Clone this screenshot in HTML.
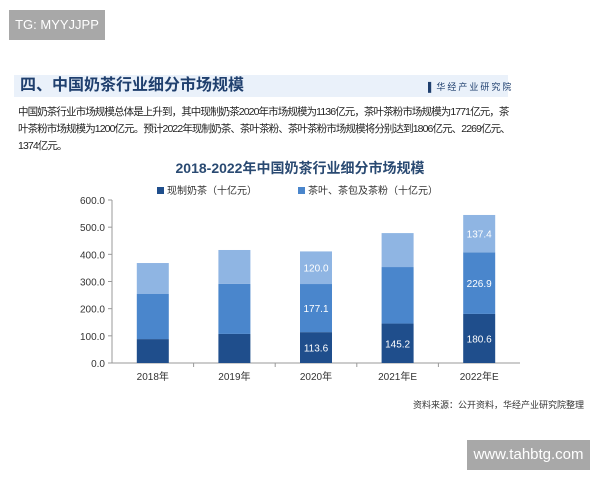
<!DOCTYPE html>
<html><head><meta charset="utf-8"><style>
body{margin:0;width:600px;height:480px;background:#fff;position:relative;overflow:hidden;font-family:"Liberation Sans","Noto Sans CJK SC",sans-serif}
.abs{position:absolute}
</style></head><body>
<div class="abs" style="left:9px;top:10px;width:96px;height:30px;background:#a8a8a8;color:#fff;font-size:13px;line-height:30px;text-align:center">TG: MYYJJPP</div>
<div class="abs" style="left:14px;top:75px;width:494px;height:22px;background:#eaf1fa"></div>
<div class="abs" style="left:20px;top:75px;font-size:16px;line-height:22px;color:#1f3f6e;font-weight:bold">四、中国奶茶行业细分市场规模</div>
<div class="abs" style="left:428px;top:80px;font-size:9px;color:#1f3f6e;letter-spacing:2px">▌华经产业研究院</div>
<div class="abs" style="left:18px;top:104px;white-space:nowrap;font-size:10.5px;letter-spacing:-0.9px;line-height:17px;color:#222">中国奶茶行业市场规模总体是上升到，其中现制奶茶2020年市场规模为1136亿元，茶叶茶粉市场规模为1771亿元，茶<br>叶茶粉市场规模为1200亿元。预计2022年现制奶茶、茶叶茶粉、茶叶茶粉市场规模将分别达到1806亿元、2269亿元、<br>1374亿元。</div>
<div class="abs" style="left:413px;top:398px;font-size:9px;color:#333">资料来源：公开资料，华经产业研究院整理</div>
<div class="abs" style="left:467px;top:440px;width:123px;height:30px;background:#a8a8a8;color:#fff;font-size:15px;line-height:30px;text-align:center">www.tahbtg.com</div>
<svg class="abs" style="left:0;top:0" width="600" height="480" id="chart">
<text x="300" y="173" text-anchor="middle" font-size="14" font-weight="bold" fill="#2a4a72">2018-2022年中国奶茶行业细分市场规模</text>
<g>
<rect x="157" y="187" width="7" height="7" fill="#1f4e8c"/>
<text x="167" y="194" font-size="10" fill="#333">现制奶茶（十亿元）</text>
<rect x="298" y="187" width="7" height="7" fill="#4a86cc"/>
<text x="308" y="194" font-size="10" fill="#333">茶叶、茶包及茶粉（十亿元）</text>
</g>
</svg>
<script>
const categories=["2018年","2019年","2020年","2021年E","2022年E"];
const freshValues=[88,107,113.6,145.2,180.6];
const teaValues=[166,184,177.1,208,226.9];
const otherValues=[114,125,120.0,125,137.4];
const labelShown=[false,false,true,true,true];
const midLabelShown=[false,false,true,false,true];
const topLabelShown=[false,false,true,false,true];
const yTicks=[0,100,200,300,400,500,600];
const svg=document.getElementById('chart');
const NS='http://www.w3.org/2000/svg';
const x0=112,x1=520,yBase=363,yTop=200,yMax=600;
const y=v=>yBase-(v/yMax)*(yBase-yTop);
const band=(x1-x0)/categories.length;
const xc=i=>x0+band*(i+0.5);
function mk(tag,attrs){const e=document.createElementNS(NS,tag);for(const k in attrs)e.setAttribute(k,attrs[k]);svg.appendChild(e);return e;}
let ax=mk('line',{x1:x0,y1:yTop,x2:x0,y2:yBase,stroke:'#999'});


let bx=mk('line',{x1:x0,y1:yBase,x2:x1,y2:yBase,stroke:'#999'});


yTicks.forEach(t=>{
 let tk=mk('line',{x1:x0-4,y1:y(t),x2:x0,y2:y(t),stroke:'#999'});
 
 
 let tl=mk('text',{x:x0-7,y:y(t)+4,'text-anchor':'end','font-size':10,fill:'#333'});
 tl.textContent=t.toFixed(1);
 
 
});
const bw=32;
categories.forEach((c,i)=>{
 const segs=[[freshValues[i],'#1f4e8c',labelShown[i]],[teaValues[i],'#4a86cc',midLabelShown[i]],[otherValues[i],'#8fb5e3',topLabelShown[i]]];
 let acc=0;
 segs.forEach((s,j)=>{
  const yt=y(acc+s[0]),yb=y(acc);
  let r=mk('rect',{x:xc(i)-bw/2,y:yt,width:bw,height:yb-yt,fill:s[1]});
  
  
  if(s[2]){
   let t=mk('text',{x:xc(i),y:(yt+yb)/2+4,'text-anchor':'middle','font-size':10,fill:'#fff'});
   t.textContent=s[0].toFixed(1);
   
   
  }
  acc+=s[0];
 });
 if(i>0){let tk=mk('line',{x1:x0+band*i,y1:yBase,x2:x0+band*i,y2:yBase+4,stroke:'#999'});
  
  }
 let l=mk('text',{x:xc(i),y:yBase+17,'text-anchor':'middle','font-size':10,fill:'#333'});
 l.textContent=c;
 
 
});
</script>
</body></html>
